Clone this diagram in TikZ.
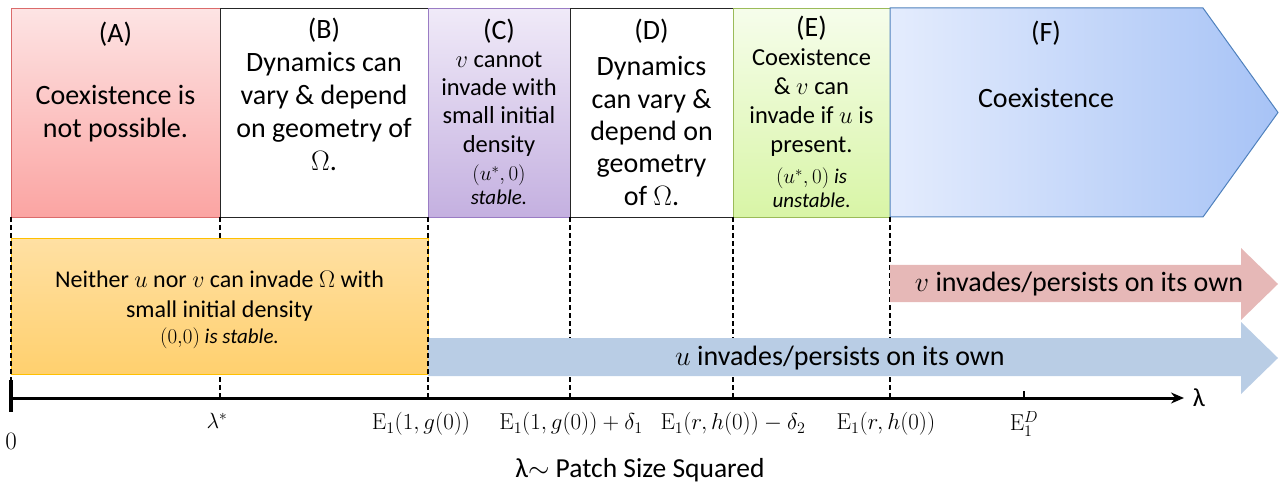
\RequirePackage{fix-cm}
\documentclass[tikz,border=0pt]{standalone}
\usepackage[no-math]{fontspec}
\setmainfont{Carlito}
\usetikzlibrary{arrows.meta,calc}
\newcommand\fsz[2]{\fontsize{#1}{#2}\selectfont}
\definecolor{aTop}{HTML}{FDE4E4}
\definecolor{aBot}{HTML}{FBA4A2}
\definecolor{aLine}{HTML}{DB6B6B}
\definecolor{cTop}{HTML}{F0EAF8}
\definecolor{cBot}{HTML}{C4B0E0}
\definecolor{cLine}{HTML}{9A7CC4}
\definecolor{eTop}{HTML}{F6FDEB}
\definecolor{eBot}{HTML}{D8F5A6}
\definecolor{eLine}{HTML}{9BBB59}
\definecolor{fLeft}{HTML}{E4ECFD}
\definecolor{fRight}{HTML}{A7C3F6}
\definecolor{fLine}{HTML}{4F81BD}
\definecolor{oTop}{HTML}{FFE0A3}
\definecolor{oBot}{HTML}{FFD06E}
\definecolor{oLine}{HTML}{FFC000}
\definecolor{redArr}{HTML}{E6B8B7}
\definecolor{bluArr}{HTML}{B9CDE5}
\definecolor{boxLine}{HTML}{262626}
\begin{document}
\begin{tikzpicture}[x=1pt,y=-1pt,
  regbox/.style={anchor=north west, minimum height=209pt, inner sep=0pt, line width=1pt},
  ttl/.style={font=\fsz{28}{33}, align=center, inner sep=0pt},
  big/.style={font=\fsz{28}{33}, align=center, inner sep=0pt},
  mid/.style={font=\fsz{24.5}{29}, align=center, inner sep=0pt},
  sml/.style={font=\fsz{21}{24}, align=center, inner sep=0pt},
  arrtxt/.style={font=\fsz{28}{33}, inner sep=0pt},
  axlbl/.style={font=\fsz{23}{26}, inner sep=0pt},
  dline/.style={dash pattern=on 5pt off 3pt, line width=1.5pt, black},
]
\useasboundingbox (0,0) rectangle (1279,486);

% axis coordinates
\coordinate (ax0) at (11,398);
\coordinate (ax1) at (1184,398);

% top region boxes
\node[regbox, minimum width=209pt, draw=aLine, top color=aTop, bottom color=aBot] (A) at (11,8) {};
\node[regbox, minimum width=208pt, draw=boxLine, fill=white] (B) at (220,8) {};
\node[regbox, minimum width=142pt, draw=cLine, top color=cTop, bottom color=cBot] (C) at (428,8) {};
\node[regbox, minimum width=163pt, draw=boxLine, fill=white] (D) at (570,8) {};
\node[regbox, minimum width=157pt, draw=eLine, top color=eTop, bottom color=eBot] (E) at (733,8) {};
\shade[left color=fLeft, right color=fRight, draw=fLine, line width=1pt]
  (890,8) -- (1203,8) -- (1278,112.5) -- (1203,217) -- (890,217) -- cycle;

% dashed separators (behind)
\foreach \nm/\xx in {l/220, m/570, n/733, o/890}{
  \coordinate (top\nm) at (\xx,217);
  \draw[dline] (top\nm) -- (top\nm |- ax0);
}

% orange box
\node[anchor=north west, minimum width=417pt, minimum height=136pt, inner sep=0pt,
  draw=oLine, line width=1pt, top color=oTop, bottom color=oBot] (O) at (11,238) {};

% arrows
\fill[redArr] (890,265) -- (1241,265) -- (1241,248) -- (1278,284) -- (1241,320) -- (1241,302) -- (890,302) -- cycle;
\fill[bluArr] (428,338) -- (1241,338) -- (1241,322) -- (1278,358) -- (1241,394) -- (1241,376) -- (428,376) -- cycle;

% dashed lines at edges of orange box (on top)
\coordinate (topk) at (11,217);
\coordinate (topp) at (428,217);
\draw[dline] (topk) -- (topk |- ax0);
\draw[dline] (topp) -- (topp |- ax0);

% axis
\draw[line width=3pt, -{Stealth[length=13pt,width=11pt]}] (ax0) -- (ax1);
\draw[line width=3.5pt] (11,380) -- (11,412);
\coordinate (edt) at (1024,391);
\draw[line width=1.8pt] (edt) -- ($(edt |- ax0)+(0,2)$);

% box texts
\node[ttl] (At) at (115.5,34) {(A)};
\node[big] (Ab) at (115.5,114) {Coexistence is\\not possible.};
\node[ttl] (Bt) at (324,30) {(B)};
\node[big] (Bb) at (324,111) {Dynamics can\\vary \& depend\\on geometry of\\$\Omega$.};
\node[ttl] (Ct) at (499,31) {(C)};
\node[mid, font=\fsz{24.5}{28.2}] (Cb) at (499,104) {$v$ cannot\\invade with\\small initial\\density};
\node[sml] (Cs) at (499,185) {$(u^*,0)$\\\textit{stable.}};
\node[ttl] (Dt) at (651.5,31) {(D)};
\node[big, font=\fsz{28}{32.3}] (Db) at (651.5,131) {Dynamics\\can vary \&\\depend on\\geometry\\of $\Omega$.};
\node[ttl] (Et) at (811.5,28) {(E)};
\node[mid] (Eb) at (811.5,103) {Coexistence\\\& $v$ can\\invade if $u$ is\\present.};
\node[sml] (Es) at (811.5,188) {$(u^*,0)$ \textit{is}\\\textit{unstable}.};
\node[ttl] (Ft) at (1046,33) {(F)};
\node[big] (Fb) at (1046,98) {Coexistence};

% orange text
\node[mid, font=\fsz{24}{30}] (Ob) at (219.5,296) {Neither $u$ nor $v$ can invade $\Omega$ with\\small initial density};
\node[sml] (Os) at (219.5,338) {$(0{,}0)$ \textit{is stable.}};

% arrow texts
\node[arrtxt] (Rt) at (1079,284) {$v$ invades/persists on its own};
\node[arrtxt] (Ut) at (840,358) {$u$ invades/persists on its own};

% axis labels
\node[font=\fsz{25}{28}, inner sep=0pt] (l0) at (11,441) {$0$};
\node[font=\fsz{22}{24}, inner sep=0pt] (l1) at (217,421) {$\lambda^*$};
\node[axlbl] (l2) at (421,424) {$\mathrm{E}_1\bigl(1,g(0)\bigr)$};
\node[axlbl] (l3) at (571,424) {$\mathrm{E}_1\bigl(1,g(0)\bigr)+\delta_1$};
\node[axlbl] (l4) at (733,424) {$\mathrm{E}_1\bigl(r,h(0)\bigr)-\delta_2$};
\node[axlbl] (l5) at (886,424) {$\mathrm{E}_1\bigl(r,h(0)\bigr)$};
\node[axlbl] (l6) at (1024,424) {$\mathrm{E}_1^D$};
\node[font=\fsz{26}{30}, inner sep=0pt] (lam) at (1199,398) {λ};
\node[font=\fsz{27.5}{30}, inner sep=0pt] (cap) at (640,470) {λ$\sim$ Patch Size Squared};
\end{tikzpicture}
\end{document}
